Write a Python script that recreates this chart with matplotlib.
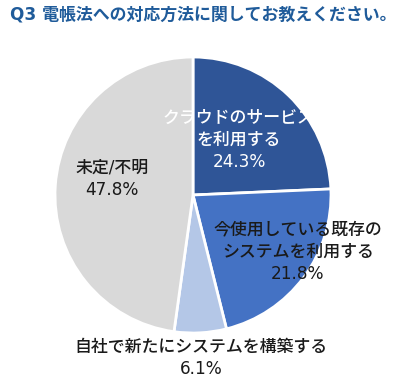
import matplotlib
matplotlib.use("Agg")
import matplotlib.pyplot as plt

plt.rcParams['font.family'] = ['DejaVu Sans', 'Noto Sans CJK JP']

labels = ["クラウドのサービス\nを利用する", "今使用している既存の\nシステムを利用する",
          "自社で新たにシステムを構築する", "未定/不明"]
values = [24.3, 21.8, 6.1, 47.8]
colors = ["#2F5597", "#4472C4", "#B4C7E7", "#D9D9D9"]
text_colors = ["white", "#1a1a1a", "#1a1a1a", "#1a1a1a"]
label_pos = [(0.333, 0.399), (0.76, -0.413), (0.058, -1.178), (-0.587, 0.116)]
title = "Q3 電帳法への対応方法に関してお教えください。"

fig = plt.figure(figsize=(4.06, 3.87), dpi=100)
ax = fig.add_axes([(193 - 150) / 406, 1 - (195 + 150) / 387, 300 / 406, 300 / 387])
ax.pie(values, colors=colors, startangle=90, counterclock=False, radius=1,
       wedgeprops=dict(edgecolor="white", linewidth=2))
ax.set_xlim(-150 / 138, 150 / 138)
ax.set_ylim(-150 / 138, 150 / 138)
ax.set_aspect("equal")
ax.axis("off")

for lab, v, c, (x, y) in zip(labels, values, text_colors, label_pos):
    ax.text(x, y, f"{lab}\n{v:.1f}%", ha="center", va="center", fontsize=12.2,
            color=c, linespacing=1.3, fontweight="medium", clip_on=False)

fig.text(10 / 406, 1 - 15 / 387, title, ha="left", va="center", fontsize=12.2,
         fontweight="bold", color="#1F5B9A")

fig.savefig("out.png", dpi=100)
